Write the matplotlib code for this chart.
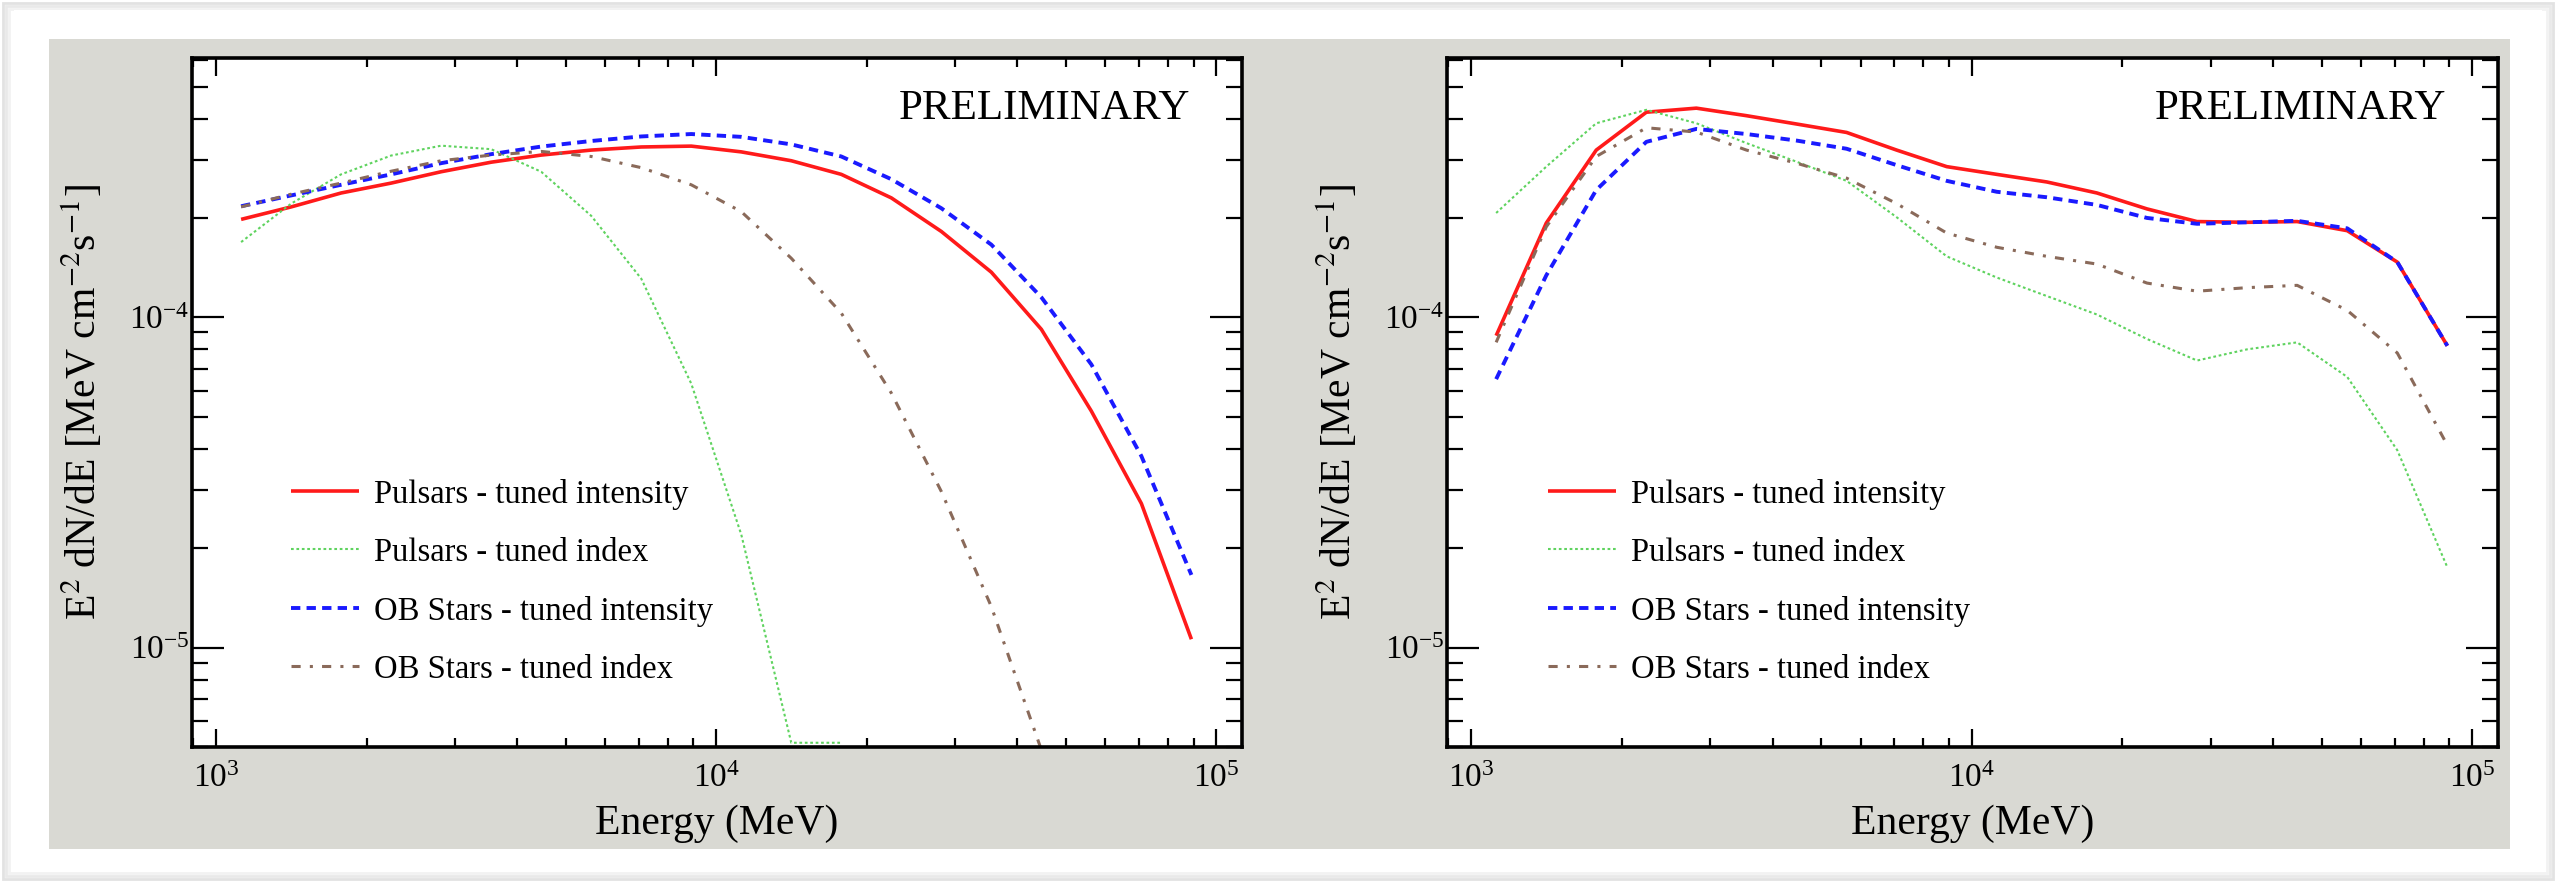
import numpy as np
import matplotlib
matplotlib.use("Agg")
import matplotlib.pyplot as plt
from matplotlib.patches import Rectangle

plt.rcParams['font.family'] = ['Liberation Serif', 'DejaVu Serif']
plt.rcParams['mathtext.fontset'] = 'stix'

# ---------------- data ----------------
energy = [1122, 1413, 1778, 2239, 2818, 3548, 4467, 5623, 7079, 8913,
          11220, 14125, 17783, 22387, 28184, 35481, 44668, 56234, 70795, 89125]

series_labels = ["Pulsars - tuned intensity", "Pulsars - tuned index",
                 "OB Stars - tuned intensity", "OB Stars - tuned index"]

nan = np.nan
# left panel
pulsar_int_left = [1.98e-4, 2.16e-4, 2.38e-4, 2.55e-4, 2.76e-4, 2.95e-4, 3.10e-4, 3.21e-4, 3.28e-4, 3.30e-4,
                   3.17e-4, 2.98e-4, 2.71e-4, 2.30e-4, 1.82e-4, 1.37e-4, 9.2e-5, 5.2e-5, 2.73e-5, 1.06e-5]
pulsar_idx_left = [1.69e-4, 2.21e-4, 2.71e-4, 3.09e-4, 3.31e-4, 3.23e-4, 2.76e-4, 2.03e-4, 1.31e-4, 6.3e-5,
                   2.2e-5, 5.15e-6, 5.15e-6, nan, nan, nan, nan, nan, nan, nan]
ob_int_left = [2.17e-4, 2.34e-4, 2.52e-4, 2.71e-4, 2.93e-4, 3.12e-4, 3.29e-4, 3.42e-4, 3.53e-4, 3.59e-4,
               3.52e-4, 3.34e-4, 3.07e-4, 2.62e-4, 2.14e-4, 1.66e-4, 1.15e-4, 7.2e-5, 3.8e-5, 1.66e-5]
ob_idx_left = [2.16e-4, 2.36e-4, 2.55e-4, 2.77e-4, 2.98e-4, 3.10e-4, 3.18e-4, 3.07e-4, 2.84e-4, 2.52e-4,
               2.09e-4, 1.51e-4, 1.03e-4, 5.9e-5, 2.97e-5, 1.33e-5, 4.9e-6, nan, nan, nan]
# right panel
pulsar_int_right = [8.8e-5, 1.93e-4, 3.21e-4, 4.18e-4, 4.30e-4, 4.08e-4, 3.85e-4, 3.63e-4, 3.21e-4, 2.86e-4,
                    2.71e-4, 2.57e-4, 2.38e-4, 2.13e-4, 1.95e-4, 1.94e-4, 1.95e-4, 1.83e-4, 1.47e-4, 8.2e-5]
pulsar_idx_right = [2.07e-4, 2.86e-4, 3.87e-4, 4.25e-4, 3.87e-4, 3.37e-4, 2.96e-4, 2.59e-4, 2.01e-4, 1.53e-4,
                    1.32e-4, 1.16e-4, 1.02e-4, 8.6e-5, 7.4e-5, 8.0e-5, 8.4e-5, 6.6e-5, 3.96e-5, 1.75e-5]
ob_int_right = [6.5e-5, 1.34e-4, 2.43e-4, 3.40e-4, 3.72e-4, 3.59e-4, 3.43e-4, 3.24e-4, 2.89e-4, 2.59e-4,
                2.40e-4, 2.31e-4, 2.19e-4, 2.00e-4, 1.92e-4, 1.94e-4, 1.96e-4, 1.86e-4, 1.47e-4, 8.2e-5]
ob_idx_right = [8.4e-5, 1.88e-4, 3.07e-4, 3.75e-4, 3.64e-4, 3.21e-4, 2.93e-4, 2.64e-4, 2.21e-4, 1.80e-4,
                1.63e-4, 1.53e-4, 1.45e-4, 1.27e-4, 1.20e-4, 1.23e-4, 1.25e-4, 1.05e-4, 7.8e-5, 4.1e-5]

panels = [
    [pulsar_int_left, pulsar_idx_left, ob_int_left, ob_idx_left],
    [pulsar_int_right, pulsar_idx_right, ob_int_right, ob_idx_right],
]

styles = [
    dict(color='#ff1a1a', lw=2.6, ls='-'),
    dict(color='#5fd35f', lw=1.5, ls=(0, (1.3, 1.3))),
    dict(color='#1a1aff', lw=2.8, ls=(0, (2.4, 1.6))),
    dict(color='#8a6a5a', lw=2.2, ls=(0, (3.0, 3.0, 1.0, 3.0))),
]

# ---------------- figure ----------------
W, H = 2556, 882
fig = plt.figure(figsize=(W / 100, H / 100), dpi=100)
fig.patch.set_facecolor('white')

# card shadow and gray panel
for i, c in enumerate(['#f2f2f2', '#e9e9e9', '#e2e2e2']):
    d = 3 + 3 * (2 - i)
    fig.add_artist(Rectangle((d / W, d / H), 1 - 2 * d / W, 1 - 2 * d / H,
                             transform=fig.transFigure, facecolor='none',
                             edgecolor=c, lw=2, zorder=-3))
fig.add_artist(Rectangle((14 / W, 10 / H), 1 - 28 / W, 1 - 20 / H,
                         transform=fig.transFigure, facecolor='white',
                         edgecolor='none', zorder=-2))
fig.add_artist(Rectangle((49 / W, 1 - 849 / H), (2510 - 49) / W, (849 - 39) / H,
                         transform=fig.transFigure, facecolor='#d9d9d3',
                         edgecolor='none', zorder=-1))

axes_px = [(192, 1242), (1447, 2498)]
top_px, bot_px = 58, 747

for k, (x0, x1) in enumerate(axes_px):
    ax = fig.add_axes([x0 / W, 1 - bot_px / H, (x1 - x0) / W, (bot_px - top_px) / H])
    ax.set_facecolor('white')
    for vals, st, lab in zip(panels[k], styles, series_labels):
        ax.plot(energy, vals, label=lab, solid_capstyle='butt', dash_capstyle='butt', **st)
    ax.set_xscale('log')
    ax.set_yscale('log')
    ax.set_xlim(895, 112500)
    ax.set_ylim(5.0e-6, 6.1e-4)

    for sp in ax.spines.values():
        sp.set_linewidth(2.6)
        sp.set_color('black')
    ax.tick_params(which='both', direction='in', top=True, right=True, width=1.6,
                   colors='black', labelsize=24)
    ax.tick_params(axis='x', which='major', length=13, pad=12)
    ax.tick_params(axis='x', which='minor', length=6.5)
    ax.tick_params(axis='y', which='major', length=23, pad=2)
    ax.tick_params(axis='y', which='minor', length=11.5)

    ax.set_xlabel('Energy (MeV)', fontsize=30)
    ax.set_ylabel(r'E$^{2}$ dN/dE [MeV cm$^{-2}$s$^{-1}$]', fontsize=30)
    ax.xaxis.set_label_coords(0.5, -0.083)
    ax.yaxis.set_label_coords(-0.083, 0.5)

    ax.text(0.951, 0.9115, 'PRELIMINARY', transform=ax.transAxes,
            ha='right', va='baseline', fontsize=31)

    ax.legend(loc='center left', bbox_to_anchor=(0.094 if k == 0 else 0.096, 0.240),
              frameon=False, fontsize=23.5, handlelength=2.1, handletextpad=0.45,
              labelspacing=0.85, borderpad=0, borderaxespad=0)

fig.savefig('out.png', dpi=100)
